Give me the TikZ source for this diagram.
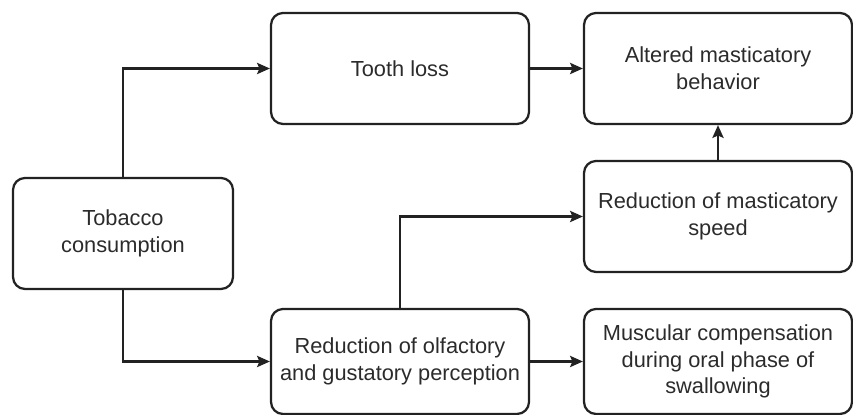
\documentclass[tikz,border=0pt]{standalone}
\usepackage{fontspec}
\setmainfont{Liberation Sans}
\usetikzlibrary{arrows.meta,positioning}
\definecolor{boxline}{HTML}{222222}
\definecolor{boxtext}{HTML}{2B2B2B}

\begin{document}
\begin{tikzpicture}[
    stepbox/.style={draw=boxline, line width=1.6pt, rounded corners=0.3cm,
      align=center, text=boxtext, font=\fontsize{15.5}{19}\selectfont,
      inner sep=0pt},
    flow/.style={draw=boxline, line width=1.6pt, -{Stealth[length=3.2mm,width=2.8mm,inset=0.6mm]}}
  ]
  \useasboundingbox (0,0) rectangle (21.325,10.375);
  \node[stepbox, minimum width=5.5cm, minimum height=2.775cm] (tobacco) at (3.075,4.5375) {Tobacco\\consumption};
  \node[stepbox, minimum width=6.45cm, minimum height=2.775cm] (tooth) at (10,8.6625) {Tooth loss};
  \node[stepbox, minimum width=6.7cm, minimum height=2.775cm] (altered) at (17.95,8.6625) {Altered masticatory\\behavior};
  \node[stepbox, minimum width=6.7cm, minimum height=2.775cm] (speed) at (17.95,4.9625) {Reduction of masticatory\\speed};
  \node[stepbox, minimum width=6.45cm, minimum height=2.625cm] (olfactory) at (10,1.3375) {Reduction of olfactory\\and gustatory perception};
  \node[stepbox, minimum width=6.7cm, minimum height=2.625cm] (muscular) at (17.95,1.3375) {Muscular compensation\\during oral phase of\\swallowing};

  \draw[flow] (tobacco.north) |- (tooth.west);
  \draw[flow] (tobacco.south) |- (olfactory.west);
  \draw[flow] (tooth) -- (altered);
  \draw[flow] (olfactory) -- (muscular);
  \draw[flow] (speed) -- (altered);
  \draw[flow] (olfactory.north) |- (speed.west);
\end{tikzpicture}
\end{document}
